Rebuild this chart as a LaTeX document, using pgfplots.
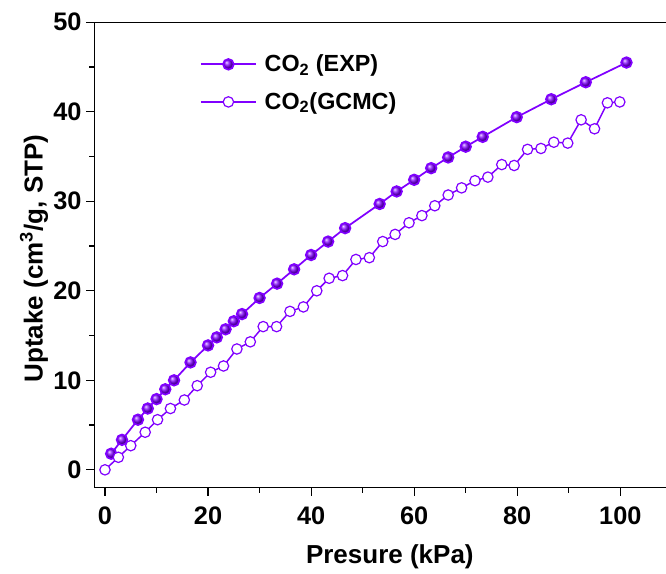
\documentclass[border=0pt]{standalone}
\usepackage{fontspec}
\setmainfont{Liberation Sans}
\usepackage{pgfplots}
\pgfplotsset{compat=1.18}
\definecolor{vio}{RGB}{128,0,255}
\begin{document}
\begin{tikzpicture}
\begin{axis}[
  scale only axis, width=428.8pt, height=349.1pt,
  xmin=-2.08, xmax=108.87, ymin=-2, ymax=50,
  axis x line*=box, axis y line*=left,
  axis line style={-, line width=0.9pt, black},
  xtick={0,20,...,100}, ytick={0,10,...,50},
  minor x tick num=1, minor y tick num=1,
  xtick pos=bottom, ytick pos=left, tick align=outside,
  major tick length=6pt, minor tick length=3.75pt,
  tick style={line width=0.9pt, black},
  /pgf/number format/assume math mode=true,
  ticklabel style={font=\fontsize{19}{22}\selectfont\bfseries},
  xticklabel style={yshift=-5pt},
  label style={font=\fontsize{19.5}{23}\selectfont\bfseries},
  xlabel={Presure (kPa)},
  ylabel={Uptake (cm\textsuperscript{3}/g, STP)},
  xlabel style={at={(axis description cs:0.517,0)}, anchor=base, yshift=-57.2pt},
  ylabel style={at={(axis description cs:-0.0902,0.4925)}, anchor=base},
  legend style={at={(axis cs:18.4,43.2)}, anchor=west, draw=none, fill=none,
    inner sep=0pt, row sep=14pt, column sep=6pt,
    nodes={inner sep=0pt, anchor=west},
    font=\fontsize{17.5}{20}\selectfont\bfseries},
  legend cell align=left,
  legend image code/.code={\draw[mark repeat=2,mark phase=2,#1] plot coordinates {(0pt,0pt) (20.6pt,0pt) (41.2pt,0pt)};},
]
\addplot[draw=vio, color=vio, line width=1.3pt, mark=ball, mark size=4pt, mark options={ball color=vio}] coordinates {
(1.2,1.8) (3.3,3.35) (6.4,5.6) (8.3,6.85) (10.0,7.9) (11.7,9.0) (13.4,10.0)
(16.6,12.0) (20.0,13.9) (21.7,14.8) (23.4,15.7) (25.0,16.6) (26.6,17.4)
(30.0,19.2) (33.4,20.8) (36.7,22.4) (40.0,24.0) (43.3,25.5) (46.6,27.0)
(53.3,29.7) (56.6,31.1) (60.0,32.4) (63.3,33.7) (66.6,34.9) (70.0,36.1)
(73.3,37.2) (79.9,39.4) (86.6,41.4) (93.3,43.3) (101.2,45.5)
};
\addlegendentry{CO\textsubscript{2} (EXP)}
\addplot[vio, line width=1.1pt, mark=*, mark size=3.9pt, mark options={fill=white, draw=vio, line width=0.9pt}] coordinates {
(0,0) (2.6,1.4) (5.0,2.7) (7.8,4.2) (10.2,5.6) (12.7,6.85) (15.4,7.8)
(17.9,9.4) (20.5,10.9) (23.0,11.6) (25.6,13.5) (28.2,14.3) (30.7,16.0)
(33.3,16.0) (35.9,17.7) (38.5,18.2) (41.1,20.0) (43.5,21.4) (46.1,21.7)
(48.7,23.5) (51.3,23.7) (53.9,25.5) (56.3,26.3) (59.0,27.6) (61.5,28.4)
(64.0,29.5) (66.6,30.7) (69.2,31.5) (71.8,32.3) (74.3,32.7) (77.0,34.1)
(79.4,34.0) (82.0,35.8) (84.6,35.9) (87.1,36.6) (89.8,36.5) (92.4,39.1)
(95.0,38.1) (97.5,41.0) (99.9,41.1)
};
\addlegendentry{CO\textsubscript{2}(GCMC)}
\end{axis}
\pgfresetboundingbox
\path[use as bounding box] ([shift={(-70.7pt,-64pt)}]current axis.south west) rectangle ([shift={(0pt,16.7pt)}]current axis.north east);
\end{tikzpicture}
\end{document}
